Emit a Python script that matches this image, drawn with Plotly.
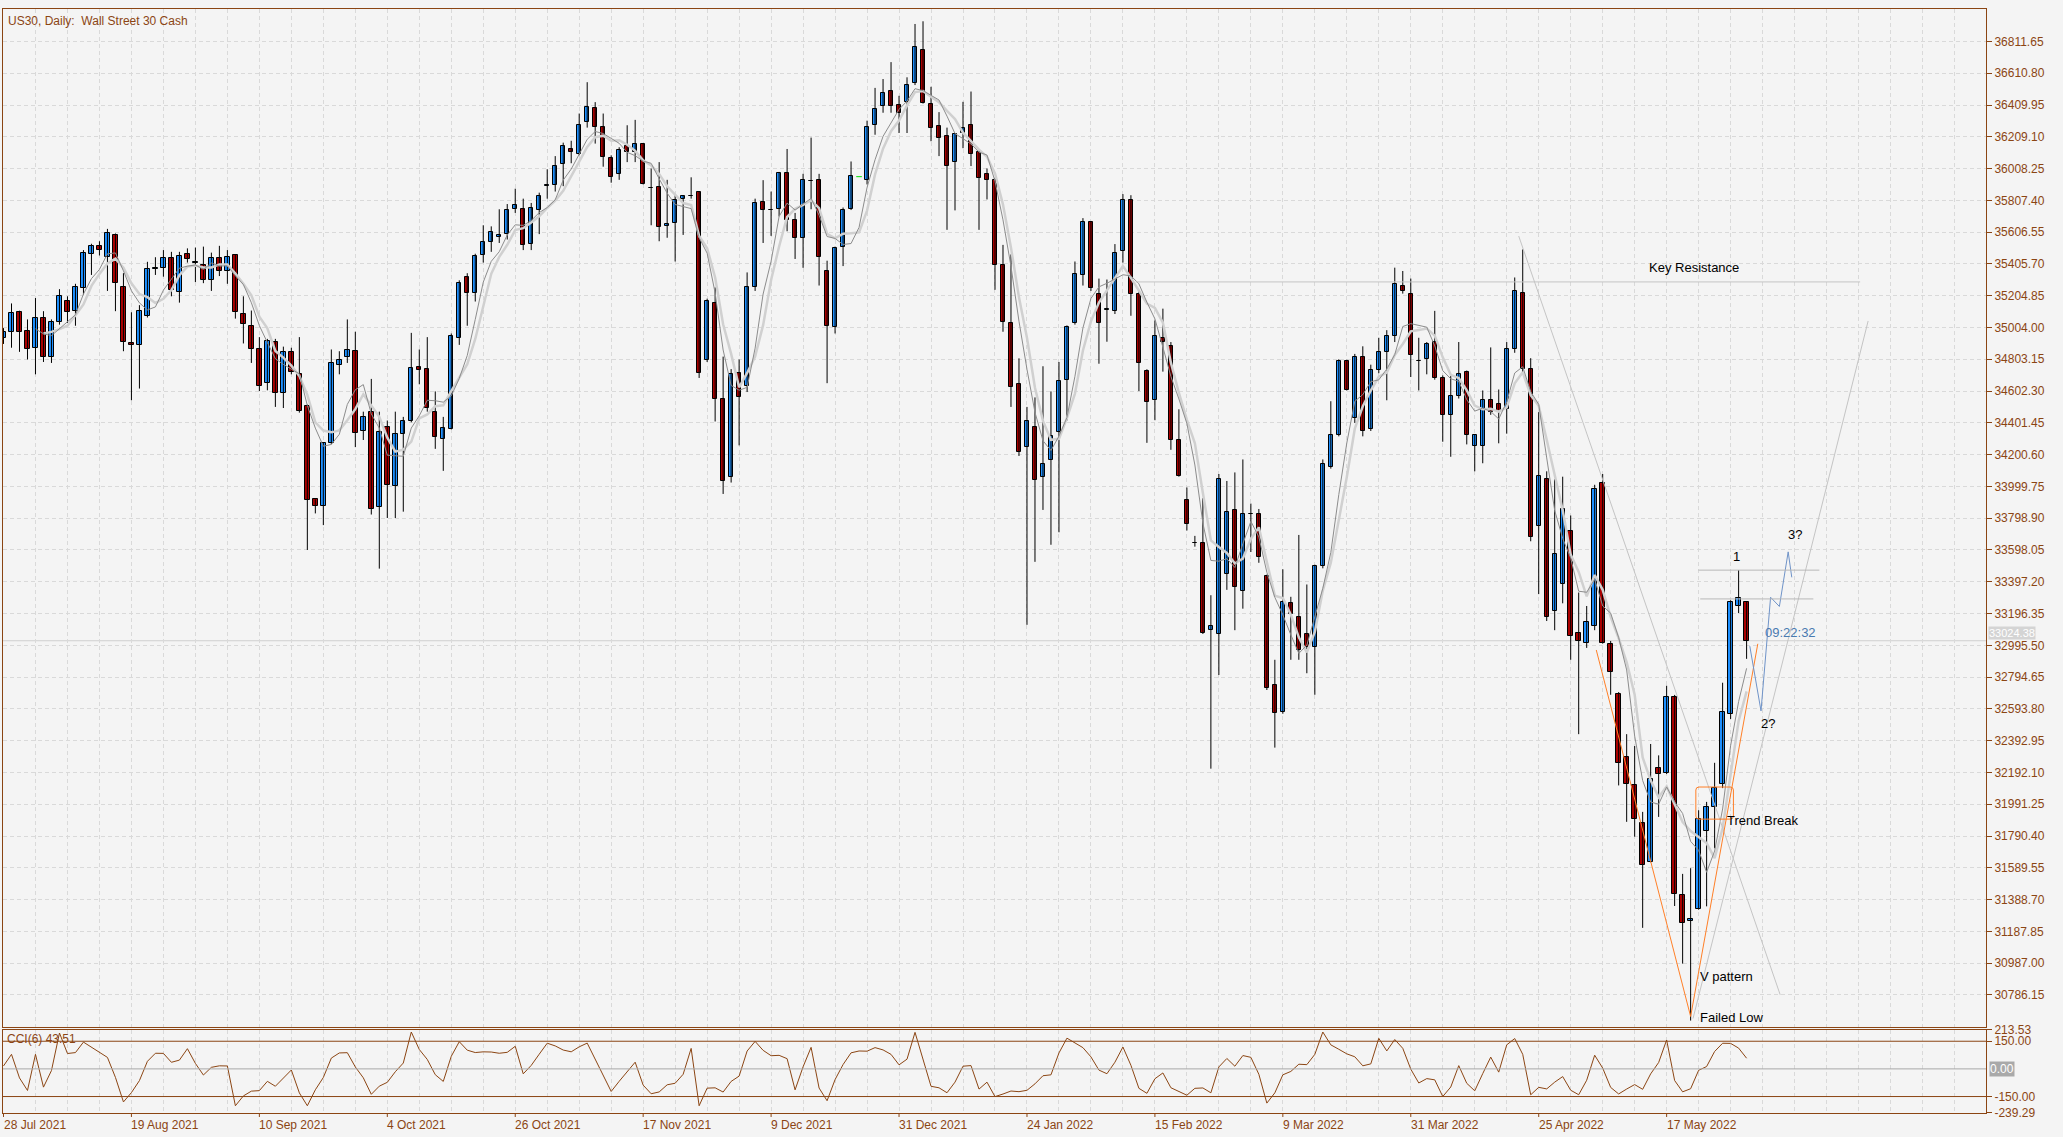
import numpy as np
import plotly.graph_objects as go

# ---------------- data ----------------
open_ = [34936, 34977, 35100, 34981, 34872, 35062, 34820, 35038, 35174, 35111,
         35253, 35466, 35520, 35448, 35591, 35257, 34905, 34892, 35078, 35376,
         35381, 35443, 35230, 35470, 35414, 35399, 35302, 35443, 35363, 35459,
         35087, 35011, 34865, 34652, 34914, 34589, 34849, 34712, 34510, 33918,
         33878, 34277, 34768, 34816, 34854, 34349, 34472, 33867, 34372, 34001,
         34333, 34416, 34753, 34741, 34472, 34297, 34365, 34936, 35320, 35224,
         35459, 35544, 35576, 35594, 35755, 35755, 35533, 35744, 35900, 35903,
         36036, 36130, 36098, 36300, 36392, 36273, 36076, 35975, 36148, 36114,
         36161, 35885, 35890, 35645, 35665, 35813, 35836, 35858, 34798, 35156,
         34551, 34058, 34719, 34634, 35262, 35796, 35746, 35755, 35982, 35684,
         35571, 35930, 35937, 35358, 35006, 35511, 35751, 35957, 35937, 36282,
         36406, 36498, 36412, 36430, 36547, 36760, 36419, 36278, 36217, 36047,
         36233, 36285, 36110, 35975, 35935, 35399, 35033, 34647, 34248, 34376,
         34058, 34165, 34342, 34674, 35033, 35336, 35672, 35217, 35116, 35107,
         35488, 35807, 35217, 34730, 34544, 34936, 34888, 34293, 33915, 33642,
         33642, 33091, 33067, 33448, 33850, 33339, 33823, 33823, 33431, 32744,
         32574, 33261, 33176, 33067, 32982, 33499, 34122, 34327, 34793, 34429,
         34817, 34361, 34735, 34851, 34953, 35269, 35218, 34793, 34803, 34912,
         34684, 34452, 34572, 34721, 34258, 34258, 34544, 34521, 34490, 34868,
         35225, 34742, 33748, 34044, 33210, 33380, 33721, 33074, 33013, 33115,
         34020, 33006, 32689, 32288, 32110, 31874, 31629, 32219, 32190, 32666,
         31420, 31252, 31332, 31821, 31974, 32121, 32564, 33247, 33270]
high = [35000, 35156, 35110, 35055, 35190, 35107, 35055, 35246, 35201, 35280,
        35493, 35533, 35549, 35627, 35598, 35347, 35100, 35145, 35419, 35448,
        35493, 35482, 35482, 35504, 35509, 35515, 35477, 35520, 35493, 35465,
        35201, 35111, 34943, 34932, 34932, 34883, 34876, 34943, 34517, 33918,
        34277, 34865, 34854, 35055, 34977, 34472, 34679, 34472, 34416, 34472,
        34439, 34970, 34865, 34943, 34600, 34439, 34966, 35302, 35347, 35470,
        35650, 35643, 35751, 35784, 35881, 35818, 35791, 35856, 36004, 36087,
        36172, 36184, 36356, 36554, 36428, 36356, 36092, 36143, 36282, 36316,
        36166, 36009, 36049, 35937, 35840, 35840, 35953, 35863, 35186, 35257,
        34820, 34741, 34802, 35352, 35818, 35935, 35863, 35987, 36132, 35728,
        35975, 36204, 35975, 35426, 35515, 35762, 36053, 35957, 36311, 36518,
        36574, 36681, 36468, 36585, 36922, 36939, 36525, 36365, 36267, 36233,
        36430, 36495, 36121, 36009, 35948, 35526, 35466, 34809, 34502, 34562,
        34759, 34600, 34786, 35017, 35421, 35695, 35677, 35313, 35307, 35531,
        35847, 35840, 35235, 34740, 35048, 35123, 34912, 34487, 33993, 33687,
        33925, 33312, 34078, 34034, 34088, 34170, 33891, 33857, 33442, 32904,
        33476, 33302, 33693, 33380, 33505, 34170, 34538, 34803, 34800, 34837,
        34885, 34769, 34939, 34987, 35382, 35361, 35313, 34939, 34912, 35109,
        34701, 34701, 34912, 34732, 34326, 34606, 34878, 34612, 34912, 35320,
        35497, 34810, 34469, 34095, 34044, 34061, 33816, 33329, 33244, 34010,
        34078, 33023, 32700, 32434, 32359, 31943, 32372, 32300, 32740, 32682,
        31551, 31587, 31953, 32006, 32253, 32759, 33280, 33471, 33275]
low = [34900, 34876, 34850, 34802, 34708, 34786, 34780, 35022, 35033, 35015,
       35212, 35336, 35459, 35235, 35107, 34854, 34544, 34618, 35067, 35336,
       35325, 35201, 35161, 35414, 35291, 35284, 35235, 35329, 35280, 35060,
       34903, 34780, 34602, 34607, 34502, 34495, 34708, 34466, 33598, 33829,
       33755, 34266, 34708, 34780, 34248, 34293, 33822, 33480, 33800, 33800,
       33840, 34405, 34645, 34472, 34237, 34098, 34360, 34894, 35015, 35168,
       35414, 35482, 35538, 35560, 35728, 35493, 35493, 35594, 35818, 35863,
       35897, 36042, 36092, 36267, 36166, 36020, 35919, 35937, 36049, 36049,
       35908, 35650, 35549, 35571, 35421, 35589, 35818, 34685, 34786, 34410,
       33952, 34024, 34259, 34596, 35235, 35538, 35583, 35706, 35612, 35437,
       35381, 35751, 35269, 34652, 34966, 35392, 35746, 35957, 35908, 36222,
       36361, 36361, 36233, 36233, 36536, 36419, 36181, 36087, 35621, 35744,
       36137, 36024, 35621, 35813, 35242, 34977, 34502, 34192, 33125, 33523,
       33851, 33631, 33710, 34416, 35022, 35269, 35235, 34775, 34914, 35089,
       35414, 35078, 34602, 34275, 34418, 34725, 34231, 34061, 33721, 33619,
       33067, 32216, 32808, 33346, 33091, 33227, 33585, 33517, 32713, 32349,
       32563, 32904, 32904, 32819, 32683, 33482, 34112, 34316, 34606, 34401,
       34316, 34350, 34715, 34544, 34912, 35218, 34691, 34606, 34708, 34674,
       34282, 34187, 34555, 34265, 34095, 34146, 34452, 34272, 34333, 34844,
       34725, 33653, 33319, 33149, 33091, 33261, 32904, 32434, 32979, 33091,
       33006, 32683, 32110, 31880, 31786, 31210, 31624, 31911, 32182, 31348,
       30984, 30624, 31325, 31346, 31713, 32093, 32530, 33199, 32910]
close = [34977, 35096, 34977, 34865, 35062, 34820, 35038, 35201, 35105, 35257,
         35477, 35522, 35493, 35598, 35286, 34910, 34892, 35111, 35376, 35380,
         35441, 35242, 35457, 35437, 35418, 35302, 35443, 35358, 35450, 35100,
         35029, 34865, 34634, 34916, 34589, 34849, 34724, 34477, 33916, 33874,
         34277, 34780, 34798, 34860, 34338, 34439, 33856, 34345, 34006, 34331,
         34412, 34748, 34735, 34495, 34315, 34367, 34948, 35286, 35219, 35455,
         35544, 35607, 35589, 35746, 35778, 35526, 35762, 35838, 35905, 36024,
         36148, 36110, 36285, 36397, 36273, 36083, 35957, 36128, 36114, 36166,
         35912, 35887, 35639, 35661, 35807, 35836, 35833, 34719, 35172, 34551,
         34035, 34712, 34567, 35262, 35791, 35746, 35748, 35982, 35684, 35571,
         35937, 35928, 35448, 35011, 35509, 35746, 35959, 35957, 36273, 36385,
         36486, 36406, 36361, 36536, 36776, 36424, 36267, 36204, 36027, 36226,
         36262, 36098, 35948, 35935, 35399, 35040, 34629, 34215, 34416, 34040,
         34143, 34320, 34668, 35004, 35343, 35672, 35251, 35033, 35118, 35477,
         35807, 35217, 34780, 34535, 34953, 34912, 34293, 34068, 33762, 33640,
         33074, 33115, 34044, 33840, 33363, 33823, 33825, 33551, 32724, 32570,
         33271, 33193, 32965, 32982, 33499, 34139, 34327, 34793, 34612, 34817,
         34350, 34735, 34851, 34953, 35276, 35235, 34827, 34790, 34902, 34684,
         34452, 34572, 34708, 34323, 34323, 34544, 34469, 34469, 34868, 35232,
         34742, 33680, 34068, 33176, 33574, 33857, 33057, 33023, 33142, 33986,
         33013, 32829, 32250, 32121, 31897, 31608, 32148, 32184, 32666, 31424,
         31242, 31266, 31901, 31974, 32094, 32571, 33268, 33293, 33024.38]

# CCI values of the first five bars (their history lies left of the chart)
cci_head = [16, 79, -49, -117, 79]

date_labels = ['28 Jul 2021', '19 Aug 2021', '10 Sep 2021', '4 Oct 2021', '26 Oct 2021',
               '17 Nov 2021', '9 Dec 2021', '31 Dec 2021', '24 Jan 2022', '15 Feb 2022',
               '9 Mar 2022', '31 Mar 2022', '25 Apr 2022', '17 May 2022']
date_label_bars = [0, 16, 32, 48, 64, 80, 96, 112, 128, 144, 160, 176, 192, 208]

price_tick_labels = ['36811.65', '36610.80', '36409.95', '36209.10', '36008.25', '35807.40',
                     '35606.55', '35405.70', '35204.85', '35004.00',
                     '34803.15', '34602.30', '34401.45', '34200.60', '33999.75', '33798.90',
                     '33598.05', '33397.20', '33196.35', '32995.50', '32794.65', '32593.80',
                     '32392.95', '32192.10', '31991.25', '31790.40', '31589.55', '31388.70',
                     '31187.85', '30987.00', '30786.15']
cci_tick_labels = ['213.53', '150.00', '-150.00', '-239.29']
cci_levels = [150, 0, -150]
current_price = 33024.38
cci_last_text = 'CCI(6) 43.51'

# hand-drawn objects (bar index, price)
key_res = dict(x0=141.6, x1=232.2, y=35292)
down_line = dict(x0=189.5, y0=35582, x1=222.2, y1=30787)
up_line = dict(x0=211.3, y0=30637, x1=233.2, y1=35045)
v_x = [199.2, 211.0, 219.4]
v_y = [32966, 30650, 33005]
proj_x = [218.4, 219.8, 221.0, 222.1, 223.2, 223.65]
proj_y = [32990, 32581, 33299, 33241, 33586, 33425]
level1_hi = dict(x0=211.97, x1=227.1, y=33470.6)
level1_lo = dict(x0=212.2, x1=226.35, y=33288.6)
box = dict(x0=211.65, x1=216.35, y0=31897, y1=32100)

# ---------------- styling constants ----------------
BROWN = '#8B4513'
BULL = '#1E90FF'
BEAR = '#AA0000'
BG = '#F4F4F4'
GRID = '#D9D9D9'
FONT = 'Liberation Sans'

o = np.array(open_, float); h = np.array(high, float)
l = np.array(low, float); c = np.array(close, float)
n = len(c)
idx = np.arange(n)

flat = h == l
lo_b = np.minimum(o, c)
hi_b = np.maximum(o, c)
hgt = np.maximum(hi_b - lo_b, 2.0)
colors = np.where(c >= o, BULL, BEAR)
m = ~flat

wx, wy = [], []
for i in idx[m]:
    wx += [i, i, None]
    wy += [l[i], h[i], None]

def sma(a, p):
    out = [None] * n
    for k in range(p - 1, n):
        out[k] = float(a[k - p + 1:k + 1].mean())
    return out

ma_fast = sma(c, 5)
ma_slow = sma(c, 6)

tp = (h + l + c) / 3
cci = list(cci_head) + [None] * (n - len(cci_head))
for k in range(5, n):
    w = tp[k - 5:k + 1]
    mu = w.mean()
    md = np.abs(w - mu).mean()
    cci[k] = float((tp[k] - mu) / (0.015 * md)) if md > 0 else 0.0

fig = go.Figure()
fig.add_trace(go.Scatter(x=wx, y=wy, mode='lines', line=dict(color='black', width=1),
                         xaxis='x', yaxis='y', hoverinfo='skip'))
fig.add_trace(go.Bar(x=idx[m], y=hgt[m], base=lo_b[m], width=0.55,
                     marker=dict(color=colors[m], line=dict(color='black', width=1)),
                     xaxis='x', yaxis='y', hoverinfo='skip'))
fx, fy = [], []
for i in idx[flat]:
    fx += [i - 0.35, i + 0.35, None]
    fy += [c[i], c[i], None]
fig.add_trace(go.Scatter(x=fx, y=fy, mode='lines', line=dict(color='#00E000', width=1),
                         xaxis='x', yaxis='y', hoverinfo='skip'))
fig.add_trace(go.Scatter(x=idx, y=ma_slow, mode='lines', line=dict(color='#D0D0D0', width=2.5),
                         xaxis='x', yaxis='y', hoverinfo='skip'))
fig.add_trace(go.Scatter(x=idx, y=ma_fast, mode='lines', line=dict(color='#8C8C8C', width=1),
                         xaxis='x', yaxis='y', hoverinfo='skip'))

# drawn objects
gray = '#C4C4C4'
fig.add_trace(go.Scatter(x=[key_res['x0'], key_res['x1']], y=[key_res['y']] * 2, mode='lines',
                         line=dict(color=gray, width=1), xaxis='x', yaxis='y'))
fig.add_trace(go.Scatter(x=[down_line['x0'], down_line['x1']], y=[down_line['y0'], down_line['y1']],
                         mode='lines', line=dict(color=gray, width=1), xaxis='x', yaxis='y'))
fig.add_trace(go.Scatter(x=[up_line['x0'], up_line['x1']], y=[up_line['y0'], up_line['y1']],
                         mode='lines', line=dict(color=gray, width=1), xaxis='x', yaxis='y'))
fig.add_trace(go.Scatter(x=v_x, y=v_y, mode='lines', line=dict(color='#FF7F27', width=1),
                         xaxis='x', yaxis='y'))
fig.add_trace(go.Scatter(x=proj_x, y=proj_y, mode='lines', line=dict(color='#6F93C8', width=1),
                         xaxis='x', yaxis='y'))
for lv in (level1_hi, level1_lo):
    fig.add_trace(go.Scatter(x=[lv['x0'], lv['x1']], y=[lv['y']] * 2, mode='lines',
                             line=dict(color='#B8B8B8', width=1), xaxis='x', yaxis='y'))

# CCI
fig.add_trace(go.Scatter(x=idx, y=cci, mode='lines', line=dict(color=BROWN, width=1),
                         xaxis='x2', yaxis='y2', hoverinfo='skip'))

x_range = [-0.0625, 247.94]
grid_vals = list(range(0, 248, 4))
y_top, y_bot = 37016.6, 30586.3
price_vals = [float(s) for s in price_tick_labels]

shapes = []
# bid line
shapes.append(dict(type='line', xref='x domain', yref='y', x0=0, x1=1, y0=current_price, y1=current_price,
                   line=dict(color='#CFCFCF', width=1), layer='below'))
# cci levels
for lv in cci_levels:
    shapes.append(dict(type='line', xref='x2 domain', yref='y2', x0=0, x1=1, y0=lv, y1=lv,
                       line=dict(color='#A8A8A8' if lv == 0 else BROWN, width=1)))
# trend break rounded box
rx, ry = 0.4, 19
x0, x1, yb, yt = box['x0'], box['x1'], box['y0'], box['y1']
path = (f"M {x0+rx},{yt} L {x1-rx},{yt} Q {x1},{yt} {x1},{yt-ry} L {x1},{yb+ry} "
        f"Q {x1},{yb} {x1-rx},{yb} L {x0+rx},{yb} Q {x0},{yb} {x0},{yb+ry} "
        f"L {x0},{yt-ry} Q {x0},{yt} {x0+rx},{yt} Z")
shapes.append(dict(type='path', xref='x', yref='y', path=path, line=dict(color='#FF7F27', width=1)))
# date tick marks
for b in date_label_bars:
    shapes.append(dict(type='line', xref='x2', yref='paper', x0=b, x1=b, y0=0, y1=-4 / 1111,
                       line=dict(color=BROWN, width=1)))

annotations = []
annotations.append(dict(text='US30, Daily:\u00a0 Wall Street 30 Cash', xref='paper', yref='paper', x=0, y=1,
                        xanchor='left', yanchor='top', xshift=3, yshift=-3, showarrow=False,
                        font=dict(family=FONT, size=12, color=BROWN)))
for lab, b in zip(date_labels, date_label_bars):
    annotations.append(dict(text=lab, xref='x2', yref='paper', x=b, y=0, xanchor='left', yanchor='middle',
                            xshift=-2, yshift=-12, showarrow=False, font=dict(family=FONT, size=12, color=BROWN)))
annotations.append(dict(text=cci_last_text, xref='paper', yref='y2', x=0, y=213.53, xanchor='left',
                        yanchor='top', xshift=2, yshift=0, showarrow=False,
                        font=dict(family=FONT, size=12, color=BROWN)))
annotations.append(dict(text='0.00', xref='paper', yref='y2', x=1, y=0, xanchor='left', yanchor='middle',
                        xshift=3, showarrow=False, bgcolor='#A9A9A9', borderpad=0,
                        font=dict(family=FONT, size=12, color='white')))
annotations.append(dict(text=f'{current_price:.2f}', xref='paper', yref='y', x=1, y=current_price,
                        xanchor='left', yanchor='middle', xshift=2, yshift=8, showarrow=False,
                        bgcolor='#D4D4D4', borderpad=0,
                        font=dict(family=FONT, size=11, color='white')))

txt = dict(family=FONT, size=13, color='black')
notes = [
    ('Key Resistance', 211.4, 35386, 'center'),
    ('1', 216.7, 33554, 'center'),
    ('3?', 224.0, 33696, 'center'),
    ('2?', 220.65, 32503, 'center'),
    ('Trend Break', 215.3, 31886, 'left'),
    ('V pattern', 211.98, 30902, 'left'),
    ('Failed Low', 211.98, 30641, 'left'),
]
for t, xx, yy, anc in notes:
    annotations.append(dict(text=t, xref='x', yref='y', x=xx, y=yy, xanchor=anc, yanchor='middle',
                            showarrow=False, font=txt))
annotations.append(dict(text='09:22:32', xref='x', yref='y', x=220.1, y=33077, xanchor='left',
                        yanchor='middle', showarrow=False,
                        font=dict(family=FONT, size=13, color='#4A7AB0')))

fig.update_layout(
    width=2063, height=1137,
    margin=dict(l=2, r=77, t=2, b=24, pad=0),
    paper_bgcolor=BG, plot_bgcolor=BG,
    showlegend=False, hovermode=False, bargap=0,
    shapes=shapes, annotations=annotations,
    xaxis=dict(domain=[0, 1], anchor='y', range=x_range, tickvals=grid_vals, showticklabels=False,
               ticks='', showgrid=True, gridcolor=GRID, griddash='4px,3px', gridwidth=1,
               zeroline=False, showline=True, mirror=True, linecolor=BROWN, linewidth=1),
    yaxis=dict(domain=[87 / 1111, 1], anchor='x', range=[y_bot, y_top], side='right',
               tickvals=price_vals, ticktext=price_tick_labels, ticks='outside', ticklen=5,
               tickcolor=BROWN, tickfont=dict(family=FONT, size=12, color=BROWN),
               showgrid=True, gridcolor=GRID, griddash='4px,3px', gridwidth=1, zeroline=False,
               showline=True, mirror=True, linecolor=BROWN, linewidth=1),
    xaxis2=dict(domain=[0, 1], anchor='y2', range=x_range, tickvals=grid_vals, showticklabels=False,
                ticks='', showgrid=True, gridcolor=GRID, griddash='4px,3px', gridwidth=1,
                zeroline=False, showline=True, mirror=True, linecolor=BROWN, linewidth=1),
    yaxis2=dict(domain=[0, 84 / 1111], anchor='x2', range=[-239.29, 213.53], side='right',
                tickvals=[213.53, 150, -150, -239.29], ticktext=cci_tick_labels, ticks='outside',
                ticklen=5, tickcolor=BROWN, tickfont=dict(family=FONT, size=12, color=BROWN),
                showgrid=False, zeroline=False, showline=True, mirror=True, linecolor=BROWN, linewidth=1),
)

fig.write_html("out.html", config={'displayModeBar': False},
               post_script="document.body.style.margin='0';")
